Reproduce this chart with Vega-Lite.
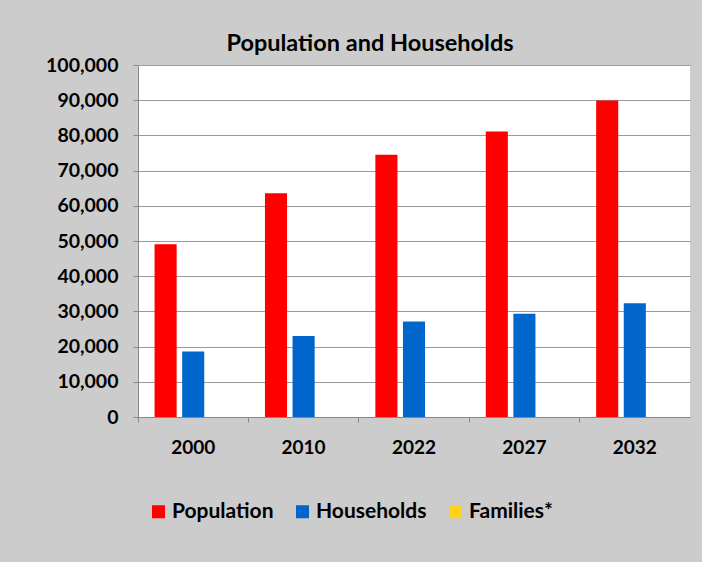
{
  "$schema": "https://vega.github.io/schema/vega-lite/v6.json",
  "autosize": {"type": "none"},
  "padding": {"left": 138, "top": 65, "right": 12, "bottom": 145},
  "width": 552,
  "height": 352,
  "background": "#cccccc",
  "title": {
    "text": "Population and Households",
    "font": "Lato",
    "fontSize": 23.5,
    "fontWeight": "bold",
    "color": "#000000",
    "anchor": "middle",
    "dx": -44,
    "dy": 33,
    "baseline": "alphabetic",
    "offset": 14
  },
  "config": {
    "view": {"fill": "#ffffff", "stroke": null},
    "font": "Lato"
  },
  "data": {
    "values": [
      {"year": "2000", "series": "Population", "value": 49100},
      {"year": "2010", "series": "Population", "value": 63600},
      {"year": "2022", "series": "Population", "value": 74500},
      {"year": "2027", "series": "Population", "value": 81100},
      {"year": "2032", "series": "Population", "value": 89900},
      {"year": "2000", "series": "Households", "value": 18600},
      {"year": "2010", "series": "Households", "value": 23000},
      {"year": "2022", "series": "Households", "value": 27100},
      {"year": "2027", "series": "Households", "value": 29300},
      {"year": "2032", "series": "Households", "value": 32300}
    ]
  },
  "mark": {"type": "bar"},
  "encoding": {
    "x": {
      "field": "year",
      "type": "nominal",
      "scale": {"paddingInner": 0, "paddingOuter": 0},
      "axis": {
        "title": null,
        "labelAngle": 0,
        "labelFont": "Lato",
        "labelFontSize": 19,
        "labelFontWeight": "bold",
        "labelColor": "#000000",
        "labelPadding": 16,
        "bandPosition": 0,
        "tickSize": 5,
        "tickColor": "#888888",
        "domainColor": "#888888",
        "grid": false
      }
    },
    "xOffset": {
      "field": "series",
      "type": "nominal",
      "scale": {"domain": ["Population", "Households", "Families*"], "paddingInner": 0.2, "paddingOuter": 0.6}
    },
    "y": {
      "field": "value",
      "type": "quantitative",
      "scale": {"domain": [0, 100000], "nice": false},
      "axis": {
        "title": null,
        "values": [0, 10000, 20000, 30000, 40000, 50000, 60000, 70000, 80000, 90000, 100000],
        "format": ",d",
        "labelFont": "Lato",
        "labelFontSize": 19.5,
        "labelFontWeight": "bold",
        "labelColor": "#000000",
        "labelPadding": 15,
        "tickSize": 5,
        "tickColor": "#888888",
        "domainColor": "#888888",
        "gridColor": "#9a9a9a",
        "gridOpacity": 1
      }
    },
    "color": {
      "field": "series",
      "type": "nominal",
      "scale": {"domain": ["Population", "Households", "Families*"], "range": ["#ff0000", "#0066cc", "#ffd320"]},
      "legend": {
        "title": null,
        "orient": "none",
        "direction": "horizontal",
        "legendX": 10,
        "legendY": 436,
        "symbolType": "square",
        "symbolSize": 169,
        "symbolStrokeWidth": 0,
        "symbolOpacity": 1,
        "labelFont": "Lato",
        "labelFontSize": 21,
        "labelFontWeight": "bold",
        "labelColor": "#000000",
        "labelOffset": 3,
        "columnPadding": 18
      }
    }
  }
}
